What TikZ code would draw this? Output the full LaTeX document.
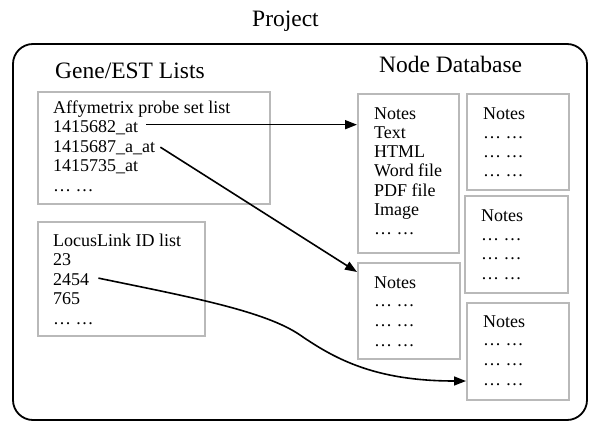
\documentclass[tikz,border=0pt]{standalone}
\usepackage{fontspec}
\setmainfont{Liberation Serif}
\newfontfamily\hdrfont{Liberation Serif}
\usetikzlibrary{arrows.meta}
\definecolor{boxgray}{RGB}{185,185,185}
\begin{document}
\begin{tikzpicture}[x=1pt,y=-1pt,
  listbox/.style={draw=boxgray, line width=1.8pt, inner sep=0pt, anchor=north west},
  txt/.style={anchor=base west, inner sep=0pt, font=\fontsize{18}{20}\selectfont},
  hdr/.style={anchor=base west, inner sep=0pt, font=\hdrfont\fontsize{23.5pt}{26pt}\selectfont},
  conn/.style={line width=1.6pt, -{Triangle[length=12pt,width=9pt]}}]
\useasboundingbox (0,0) rectangle (600,431);
\fill[white] (0,0) rectangle (600,431);
% title and outer frame
\node[hdr] (title) at (252,27) {Project};
\draw[line width=1.8pt, rounded corners=20pt] (13,44) rectangle (587,420);
\node[hdr] (genehdr) at (55,78) {Gene/EST Lists};
\node[hdr] (nodehdr) at (379,72) {Node Database};
% list boxes
\node[listbox, minimum width=232pt, minimum height=112pt] (affy) at (37,91) {};
\node[listbox, minimum width=167pt, minimum height=114pt] (locus) at (37,221) {};
% database boxes
\node[listbox, minimum width=101pt, minimum height=159pt] (dbA) at (357,93) {};
\node[listbox, minimum width=102pt, minimum height=96pt] (dbB) at (466,93) {};
\node[listbox, minimum width=103pt, minimum height=97pt] (dbC) at (464,195) {};
\node[listbox, minimum width=102pt, minimum height=96pt] (dbD) at (357,262) {};
\node[listbox, minimum width=102pt, minimum height=97pt] (dbE) at (466,302) {};
% affy text
\node[txt] (affyt) at (53,113) {Affymetrix probe set list};
\node[txt] (p1682) at (53,132.5) {1415682\_at};
\node[txt] (p1687) at (53,152) {1415687\_a\_at};
\node[txt] (p1735) at (53,171.5) {1415735\_at};
\node[txt] (affyd) at (53,191) {… …};
% locus text
\node[txt] (locust) at (53,246) {LocusLink ID list};
\node[txt] (l23) at (53,265.5) {23};
\node[txt] (l2454) at (53,285) {2454};
\node[txt] (l765) at (53,304.5) {765};
\node[txt] (locusd) at (53,324) {… …};
% dbA text
\node[txt] (aN) at (374,119) {Notes};
\node[txt] (aT) at (374,138.3) {Text};
\node[txt] (aH) at (374,157.6) {HTML};
\node[txt] (aW) at (374,176.9) {Word file};
\node[txt] (aP) at (374,196.2) {PDF file};
\node[txt] (aI) at (374,215.5) {Image};
\node[txt] (aD) at (374,234.5) {… …};
% dbB text
\node[txt] (bN) at (483,119) {Notes};
\node[txt] (bD1) at (483,138) {… …};
\node[txt] (bD2) at (483,157) {… …};
\node[txt] (bD3) at (483,176) {… …};
% dbC text
\node[txt] (cN) at (481,221) {Notes};
\node[txt] (cD1) at (481,240) {… …};
\node[txt] (cD2) at (481,259) {… …};
\node[txt] (cD3) at (481,279) {… …};
% dbD text
\node[txt] (dN) at (374,288) {Notes};
\node[txt] (dD1) at (374,306) {… …};
\node[txt] (dD2) at (374,326) {… …};
\node[txt] (dD3) at (374,346) {… …};
% dbE text
\node[txt] (eN) at (483,327) {Notes};
\node[txt] (eD1) at (483,345) {… …};
\node[txt] (eD2) at (483,365) {… …};
\node[txt] (eD3) at (483,385) {… …};
% connectors
\coordinate (s1) at ([xshift=8pt,yshift=3pt]p1682.east);
\draw[conn] (s1) -- (dbA.west |- s1);
\draw[conn] ([xshift=5pt]p1687.east) -- ([yshift=-10pt]dbD.north west);
\draw[conn] ([xshift=9pt,yshift=1pt]l2454.east) .. controls (190,297) and (265,311) .. (300,335)
   .. controls (335,359) and (375,381) .. ([yshift=-79pt]dbE.north west);
\end{tikzpicture}
\end{document}
